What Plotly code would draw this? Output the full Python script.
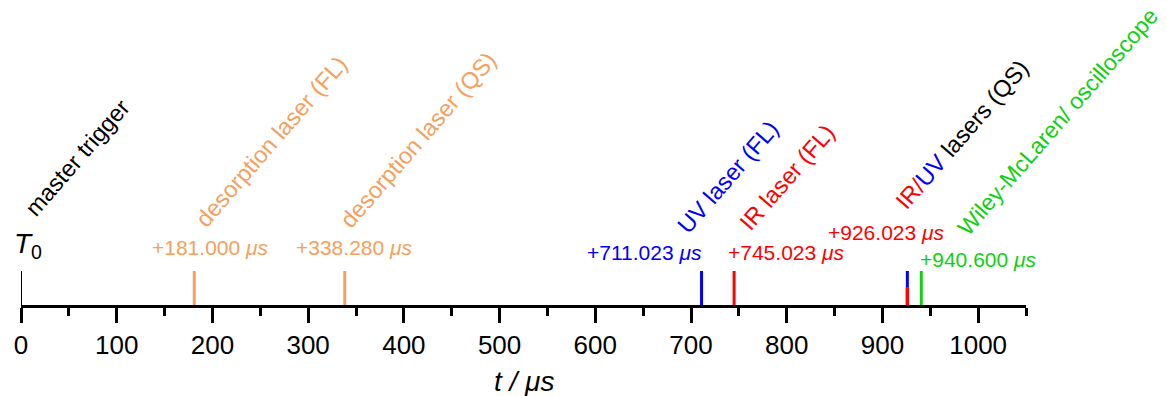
import plotly.graph_objects as go

# ---- data ----
event_times = [0.0, 181.000, 338.280, 711.023, 745.023, 926.023, 940.600]
event_names = [
    "master trigger",
    "desorption laser (FL)",
    "desorption laser (QS)",
    "UV laser (FL)",
    "IR laser (FL)",
    "<span style='color:#FF0000'>IR/</span><span style='color:#0000FF'>UV</span> lasers (QS)",
    "Wiley-McLaren/ oscilloscope",
]
delay_labels = ["", "+181.000", "+338.280", "+711.023", "+745.023", "+926.023", "+940.600"]
event_colors = ["#000000", "#F5A05E", "#F5A05E", "#0000FF", "#FF0000", "#FF0000", "#11D011"]
tick_values = [0, 100, 200, 300, 400, 500, 600, 700, 800, 900, 1000]

# ---- style / layout helpers ----
FONT = "Liberation Sans, Arial, sans-serif"
name_shift_x = [-4, -7, -12, -32, -2, -20, 28]
name_y = [81, 70, 69, 64, 67, 88, 62]
name_size = [23.5, 23.5, 23.5, 23.5, 23.5, 23.5, 23]
delay_shift_x = [0, 16, 10, -57, 52, -21, 57]
delay_y = [0, 58, 58, 53, 53, 73, 46]
LINE_H = 34

fig = go.Figure()

for i, t in enumerate(event_times):
    if i == 0:
        fig.add_trace(go.Scatter(x=[t, t], y=[0, LINE_H], mode="lines",
                                 line=dict(color="#000000", width=2), hoverinfo="skip"))
    elif i == 5:
        fig.add_trace(go.Scatter(x=[t, t], y=[0, 18], mode="lines",
                                 line=dict(color="#FF0000", width=3.5), hoverinfo="skip"))
        fig.add_trace(go.Scatter(x=[t, t], y=[18, LINE_H], mode="lines",
                                 line=dict(color="#0000FF", width=3), hoverinfo="skip"))
    else:
        fig.add_trace(go.Scatter(x=[t, t], y=[0, LINE_H], mode="lines",
                                 line=dict(color=event_colors[i], width=3), hoverinfo="skip"))

annotations = []
for i, t in enumerate(event_times):
    ncol = "#000000" if i == 5 else event_colors[i]
    annotations.append(dict(
        x=t, y=name_y[i], xref="x", yref="y", text=event_names[i],
        textangle=-49, showarrow=False, xanchor="left", yanchor="bottom",
        xshift=name_shift_x[i], font=dict(family=FONT, size=name_size[i], color=ncol),
    ))
    if delay_labels[i]:
        annotations.append(dict(
            x=t, y=delay_y[i], xref="x", yref="y",
            text=delay_labels[i] + " <i>\u03bcs</i>",
            showarrow=False, xanchor="center", yanchor="middle",
            xshift=delay_shift_x[i], font=dict(family=FONT, size=21, color=event_colors[i]),
        ))

annotations.append(dict(x=0, y=60, xref="x", yref="y", text="<i>T</i><sub>0</sub>",
                        showarrow=False, xanchor="left", yanchor="middle", xshift=-9,
                        font=dict(family=FONT, size=28, color="#000000")))
annotations.append(dict(x=0.5, y=-0.252, xref="paper", yref="paper", text="<i>t / \u03bcs</i>",
                        showarrow=False, xanchor="center", yanchor="middle",
                        font=dict(family=FONT, size=28, color="#000000")))

fig.update_layout(
    width=1167, height=396,
    margin=dict(l=21, r=141, t=0, b=91),
    paper_bgcolor="white", plot_bgcolor="white",
    showlegend=False,
    annotations=annotations,
    xaxis=dict(
        range=[0, 1050], showgrid=False, zeroline=False,
        showline=True, linecolor="#000000", linewidth=2.5,
        ticks="outside", ticklen=15, tickwidth=2.5, tickcolor="#000000",
        tickmode="array", tickvals=tick_values, ticktext=[str(v) for v in tick_values],
        tickfont=dict(family=FONT, size=26, color="#000000"),
        minor=dict(ticks="outside", ticklen=8, tickwidth=2.5, tickcolor="#000000", dtick=50, tick0=0),
    ),
    yaxis=dict(range=[0, 305], visible=False, fixedrange=True),
)

fig.write_html("out.html")
